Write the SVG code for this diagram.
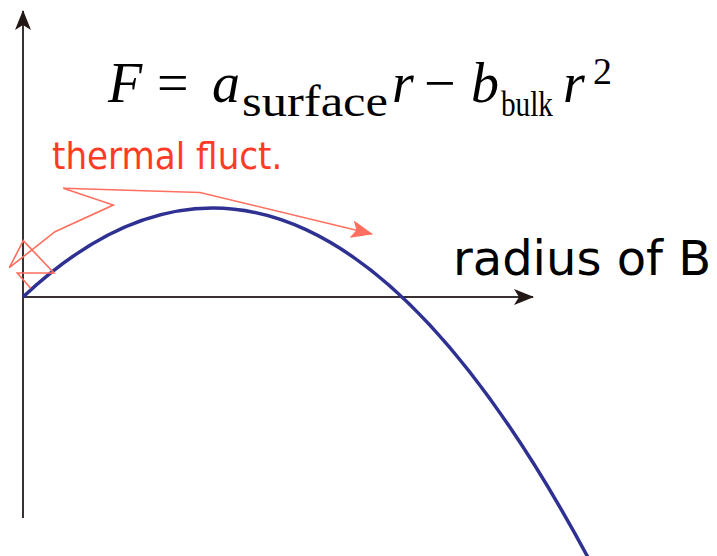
<svg xmlns="http://www.w3.org/2000/svg" width="717" height="556" viewBox="0 0 717 556">
<defs>
<style>
.axis{fill:none;stroke:#3a3232;stroke-width:2}
.curve{fill:none;stroke:#2e3192;stroke-width:3.5}
.fluct{fill:none;stroke:#ff6e5e;stroke-width:1.6;stroke-linejoin:miter}
.label{font-family:"DejaVu Sans",sans-serif;fill:#000}
.red{font-family:"DejaVu Sans Condensed","DejaVu Sans",sans-serif;font-stretch:condensed;fill:#ff3b26}
.math{font-family:"Liberation Serif","Times New Roman",serif;fill:#000}
.it{font-style:italic}
</style>
<marker id="ah" viewBox="0 0 20 16" refX="19" refY="8" markerWidth="20" markerHeight="16" markerUnits="userSpaceOnUse" orient="auto">
<path d="M0,0 L20,8 L0,16 L5,8 Z" fill="#231815"/>
</marker>
<marker id="ahr" viewBox="0 0 22 18" refX="21" refY="9" markerWidth="22" markerHeight="18" markerUnits="userSpaceOnUse" orient="auto">
<path d="M0,0 L22,9 L0,18 L5,9 Z" fill="#ff6e5e"/>
</marker>
</defs>
<g id="axes">
<path class="axis" d="M23,518 L23,11" marker-end="url(#ah)"/>
<path class="axis" d="M23,297 L533,297" marker-end="url(#ah)"/>
</g>
<g id="curve">
<path class="curve" d="M23,297 Q306.5,30.7 590,561.2"/>
</g>
<g id="connectors">
<path class="fluct" d="M30.7,288.3 L17.3,273 L54,273 L23.3,240.7 L9.3,267.7 L55,231.7 L113.3,205 L63.3,188.3 L200,192.5 L372,234" marker-end="url(#ahr)"/>
</g>
<g id="labels">
<text class="red" x="52" y="169" font-size="38">thermal fluct.</text>
<text class="label" x="453" y="275" font-size="48">radius of B</text>
</g>
<g id="formula">
<text class="math" font-size="56"><tspan class="it" x="108" y="102">F</tspan><tspan x="157" y="102">=</tspan><tspan class="it" x="212" y="102">a</tspan><tspan x="242" y="116" font-size="44" textLength="146" lengthAdjust="spacingAndGlyphs">surface</tspan><tspan class="it" x="392" y="102">r</tspan><tspan x="424" y="102">−</tspan><tspan class="it" x="471" y="102">b</tspan><tspan x="501" y="116" font-size="36" textLength="52" lengthAdjust="spacingAndGlyphs">bulk</tspan><tspan class="it" x="563" y="102">r</tspan><tspan x="593" y="84" font-size="38">2</tspan></text>
</g>
</svg>
